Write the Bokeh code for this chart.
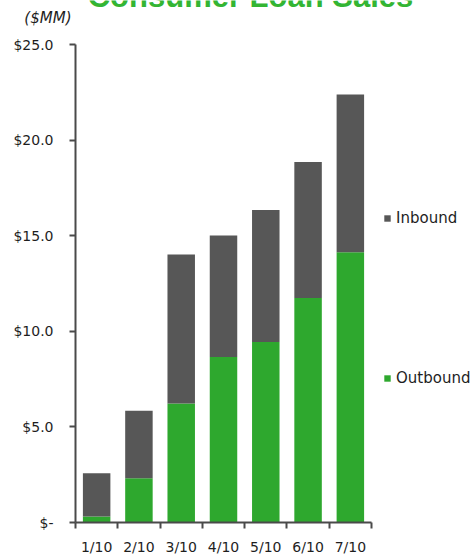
from bokeh.plotting import figure
from bokeh.layouts import column
from bokeh.models import (ColumnDataSource, FixedTicker, NumeralTickFormatter,
                          Legend, LegendItem, Label, Range1d)
from bokeh.embed import file_html
from bokeh.resources import INLINE

# ---- data ----
months = ["1/10", "2/10", "3/10", "4/10", "5/10", "6/10", "7/10"]
outbound = [0.31, 2.32, 6.22, 8.66, 9.44, 11.74, 14.14]
inbound = [2.26, 3.52, 7.80, 6.35, 6.91, 7.12, 8.25]
y_ticks = [0, 5, 10, 15, 20, 25]
title_text = "Consumer Loan Sales"
unit_text = "($MM)"

GREEN = "#2ea82e"
GRAY = "#575757"
AXIS = "#4a4a4a"
TEXT = "#1e1e1e"
LEFT = 75

# ---- header strip (title is cropped at the top edge, as in the reference) ----
TOP_H = 26
top = figure(width=472, height=TOP_H, output_backend="svg", toolbar_location=None,
             x_range=Range1d(LEFT, 472), y_range=Range1d(0, TOP_H),
             min_border=0, min_border_left=LEFT, x_axis_type=None)
top.outline_line_color = None
top.xgrid.visible = False
top.ygrid.visible = False
top.add_layout(Label(x=250, y=TOP_H + 4, text=title_text, text_align="center",
                     text_baseline="alphabetic", text_font="Liberation Sans",
                     text_font_style="bold", text_font_size="31px",
                     text_color="#33b533"))
ta = top.yaxis[0]
ta.ticker = FixedTicker(ticks=[TOP_H - 17])
ta.major_label_overrides = {TOP_H - 17: unit_text}
ta.axis_line_color = None
ta.major_tick_line_color = None
ta.minor_tick_line_color = None
ta.major_tick_out = 0
ta.major_tick_in = 0
ta.major_label_standoff = 4
ta.major_label_text_font = "DejaVu Sans"
ta.major_label_text_font_style = "italic"
ta.major_label_text_font_size = "15px"
ta.major_label_text_color = TEXT

# ---- main chart ----
n = len(months)
xpos = [i + 0.5 for i in range(n)]
src = ColumnDataSource(dict(x=xpos, month=months, outbound=outbound, inbound=inbound))

x_end = n * (472 - LEFT) / (371 - LEFT)
p = figure(width=472, height=558 - TOP_H, output_backend="svg", toolbar_location=None,
           x_range=Range1d(0, x_end), y_range=Range1d(0, 25),
           min_border_left=LEFT, min_border_right=0, min_border_top=18,
           min_border_bottom=36)
p.outline_line_color = None
p.xgrid.visible = False
p.ygrid.visible = False

rs = p.vbar_stack(["outbound", "inbound"], x="x", width=0.65, source=src,
                  color=[GREEN, GRAY], line_color=None)

# y axis
ya = p.yaxis[0]
ya.ticker = FixedTicker(ticks=y_ticks)
ya.formatter = NumeralTickFormatter(format="$0.0")
ya.major_label_overrides = {0: "$-"}
ya.axis_line_color = AXIS
ya.axis_line_width = 2
ya.major_tick_line_color = AXIS
ya.major_tick_line_width = 2
ya.major_tick_out = 6
ya.major_tick_in = 0
ya.minor_tick_line_color = None
ya.major_label_standoff = 16
ya.major_label_text_font = "DejaVu Sans"
ya.major_label_text_font_size = "14px"
ya.major_label_text_color = TEXT

# x axis: labels at centers, tick marks at category boundaries
xa = p.xaxis[0]
xa.bounds = (0, n)
xa.ticker = FixedTicker(ticks=xpos, minor_ticks=list(range(n + 1)))
xa.major_label_overrides = {xv: m for xv, m in zip(xpos, months)}
xa.axis_line_color = AXIS
xa.axis_line_width = 2
xa.major_tick_line_color = None
xa.major_tick_out = 6
xa.major_tick_in = 0
xa.minor_tick_line_color = AXIS
xa.minor_tick_line_width = 2
xa.minor_tick_out = 6
xa.minor_tick_in = 0
xa.major_label_standoff = 10
xa.major_label_text_font = "DejaVu Sans"
xa.major_label_text_font_size = "14px"
xa.major_label_text_color = TEXT

# legend
legend = Legend(items=[LegendItem(label="Inbound", renderers=[rs[1]]),
                       LegendItem(label="Outbound", renderers=[rs[0]])],
                location=(308, 134), orientation="vertical",
                glyph_width=8, glyph_height=8, label_standoff=5,
                label_text_font="DejaVu Sans", label_text_font_size="15px",
                label_text_color=TEXT, label_height=20,
                spacing=140, padding=0, margin=0,
                border_line_color=None, background_fill_alpha=0)
p.add_layout(legend, "center")

layout = column(top, p, spacing=0)
open("out.html", "w").write(file_html(layout, INLINE))
